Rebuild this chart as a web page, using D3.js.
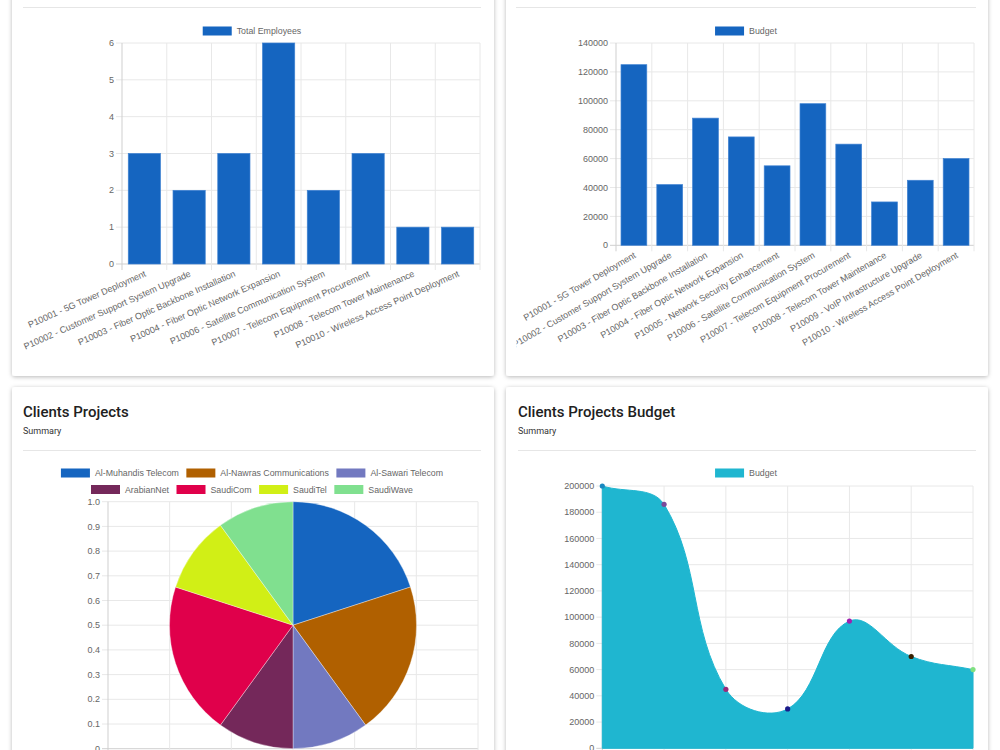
<!DOCTYPE html>
<html>
<head>
<meta charset="utf-8">
<script src="https://cdn.jsdelivr.net/npm/d3@7"></script>
<style>
  html, body { margin: 0; padding: 0; background: #fff; overflow: hidden; }
  svg { display: block; }
  .tick-label { font-family: "Liberation Sans", Arial, sans-serif; font-size: 9px; fill: #666; }
  .legend-label { font-family: "Liberation Sans", Arial, sans-serif; font-size: 8.8px; fill: #666; }
  .card-title { font-family: Roboto, "Noto Sans", sans-serif; font-weight: 500; font-size: 15px; fill: #212121; }
  .card-sub { font-family: Roboto, "Noto Sans", sans-serif; font-size: 9px; fill: #333; }
</style>
</head>
<body>
<div id="page"></div>
<script>
var employeeProjects = ["P10001 - 5G Tower Deployment", "P10002 - Customer Support System Upgrade",
  "P10003 - Fiber Optic Backbone Installation", "P10004 - Fiber Optic Network Expansion",
  "P10006 - Satellite Communication System", "P10007 - Telecom Equipment Procurement",
  "P10008 - Telecom Tower Maintenance", "P10010 - Wireless Access Point Deployment"];
var employeeCounts = [3, 2, 3, 6, 2, 3, 1, 1];
var employeeTicks = [0, 1, 2, 3, 4, 5, 6];

var budgetProjects = ["P10001 - 5G Tower Deployment", "P10002 - Customer Support System Upgrade",
  "P10003 - Fiber Optic Backbone Installation", "P10004 - Fiber Optic Network Expansion",
  "P10005 - Network Security Enhancement", "P10006 - Satellite Communication System",
  "P10007 - Telecom Equipment Procurement", "P10008 - Telecom Tower Maintenance",
  "P10009 - VoIP Infrastructure Upgrade", "P10010 - Wireless Access Point Deployment"];
var budgetValues = [125000, 42000, 88000, 75000, 55000, 98000, 70000, 30000, 45000, 60000];
var budgetTicks = [0, 20000, 40000, 60000, 80000, 100000, 120000, 140000];

var clientNames = ["Al-Muhandis Telecom", "Al-Nawras Communications", "Al-Sawari Telecom",
  "ArabianNet", "SaudiCom", "SaudiTel", "SaudiWave"];
var clientProjectCounts = [2, 2, 1, 1, 2, 1, 1];
var pieTicks = [0, 0.1, 0.2, 0.3, 0.4, 0.5, 0.6, 0.7, 0.8, 0.9, 1.0];

var clientBudgets = [200000, 186000, 45000, 30000, 97000, 70000, 60000];
var clientBudgetTicks = [0, 20000, 40000, 60000, 80000, 100000, 120000, 140000, 160000, 180000, 200000];

// colours
var barBlue = "#1565c0";
var clientColors = ["#1565c0", "#b06000", "#7279c0", "#74285a", "#e0004b", "#d1ef16", "#80e08f"];
var areaColor = "#1fb6d0";
var pointColors = ["#1a88c0", "#7a4a9a", "#9a2a7a", "#1a1a8a", "#a020b0", "#3a2000", "#80e080"];

var gridColor = "#e8e8e8";
var axisColor = "#cfcfcf";

var svg = d3.select("#page").append("svg")
  .attr("width", 1000)
  .attr("height", 750);

var defs = svg.append("defs");
var shadow = defs.append("filter").attr("id", "shadow")
  .attr("x", "-10%").attr("y", "-10%").attr("width", "120%").attr("height", "120%");
shadow.append("feDropShadow")
  .attr("dx", 0).attr("dy", 1)
  .attr("stdDeviation", 2.2)
  .attr("flood-color", "#000")
  .attr("flood-opacity", 0.28);

// cards
var cards = [
  {x: 12, y: -200, w: 482, h: 576},
  {x: 506, y: -200, w: 482, h: 576},
  {x: 12, y: 387, w: 482, h: 500},
  {x: 506, y: 387, w: 482, h: 500}
];
svg.selectAll("rect.card")
  .data(cards)
  .enter()
  .append("rect")
    .attr("class", "card")
    .attr("x", function(d) { return d.x })
    .attr("y", function(d) { return d.y })
    .attr("width", function(d) { return d.w })
    .attr("height", function(d) { return d.h })
    .attr("rx", 3)
    .style("fill", "#fff")
    .attr("filter", "url(#shadow)");

function divider(x1, x2, y) {
  svg.append("line")
    .attr("x1", x1).attr("x2", x2)
    .attr("y1", y).attr("y2", y)
    .style("stroke", "#e6e6e6")
    .style("stroke-width", 1);
}

function header(x, title) {
  svg.append("text").attr("class", "card-title")
    .attr("x", x).attr("y", 417).text(title);
  svg.append("text").attr("class", "card-sub")
    .attr("x", x).attr("y", 434).text("Summary");
}

// legend items laid out in centred rows like chart.js does
function legend(items, colors, centerX, y0, maxW) {
  var g = svg.append("g");
  var gap = 7.5;
  var rows = [[]], rowW = [0];
  var widths = items.map(function(t) {
    var tmp = g.append("text").attr("class", "legend-label").text(t);
    var w = tmp.node().getComputedTextLength();
    tmp.remove();
    return 29 + 5 + w;
  });
  items.forEach(function(t, i) {
    var r = rows.length - 1;
    var add = (rows[r].length ? gap : 0) + widths[i];
    if (rowW[r] + add > maxW && rows[r].length) {
      rows.push([]); rowW.push(0); r++;
      add = widths[i];
    }
    rows[r].push(i);
    rowW[r] += add;
  });
  rows.forEach(function(row, r) {
    var x = centerX - rowW[r] / 2;
    var y = y0 + r * 16.5;
    row.forEach(function(i) {
      g.append("rect")
        .attr("x", x).attr("y", y - 4.5)
        .attr("width", 29).attr("height", 9)
        .style("fill", colors[i]);
      g.append("text").attr("class", "legend-label")
        .attr("x", x + 34).attr("y", y)
        .attr("dy", "0.35em")
        .text(items[i]);
      x += widths[i] + gap;
    });
  });
}

function yAxis(g, y, ticks, x0, x1, fmt) {
  g.selectAll("line.hgrid")
    .data(ticks)
    .enter()
    .append("line")
      .attr("x1", x0 - 6).attr("x2", x1)
      .attr("y1", function(d) { return y(d) })
      .attr("y2", function(d) { return y(d) })
      .style("stroke", function(d) { return d === 0 ? axisColor : gridColor });
  g.selectAll("text.ylab")
    .data(ticks)
    .enter()
    .append("text")
      .attr("class", "tick-label")
      .attr("x", x0 - 8)
      .attr("y", function(d) { return y(d) })
      .attr("dy", "0.35em")
      .attr("text-anchor", "end")
      .text(fmt);
}

// bar chart helper (top cards)
function barChart(opts) {
  var g = svg.append("g");
  var x = d3.scaleBand()
    .domain(opts.labels)
    .range([opts.left, opts.right])
    .paddingInner(0)
    .paddingOuter(0);
  var y = d3.scaleLinear()
    .domain([0, opts.max])
    .range([opts.bottom, opts.top]);

  yAxis(g, y, opts.ticks, opts.left, opts.right, function(d) { return d });

  // vertical grid at category edges
  var edges = opts.labels.map(function(d) { return x(d) }).concat([opts.right]);
  g.selectAll("line.vgrid")
    .data(edges)
    .enter()
    .append("line")
      .attr("x1", function(d) { return d })
      .attr("x2", function(d) { return d })
      .attr("y1", opts.top)
      .attr("y2", opts.bottom + 6)
      .style("stroke", function(d, i) { return i === 0 ? axisColor : gridColor });

  var bw = x.bandwidth() * 0.72;
  g.selectAll("rect.bar")
    .data(opts.values)
    .enter()
    .append("rect")
      .attr("x", function(d, i) { return x(opts.labels[i]) + (x.bandwidth() - bw) / 2 })
      .attr("y", function(d) { return y(d) })
      .attr("width", bw)
      .attr("height", function(d) { return y(0) - y(d) })
      .style("fill", barBlue)
      .style("stroke", "#3f82d2")
      .style("stroke-width", 0.7);

  g.selectAll("text.xlab")
    .data(opts.labels)
    .enter()
    .append("text")
      .attr("class", "tick-label")
      .attr("text-anchor", "end")
      .attr("dy", "0.35em")
      .attr("transform", function(d) {
        return "translate(" + (x(d) + x.bandwidth() / 2 + 1) + "," + (opts.bottom + 9) + ") rotate(" + (-opts.rotate) + ")";
      })
      .text(function(d) { return d });

  legend([opts.series], [barBlue], opts.legendX, 31, 450);
}

// ---- top left: employees per project
divider(23, 481, 7.5);
barChart({
  labels: employeeProjects, values: employeeCounts, ticks: employeeTicks, max: 6,
  left: 122, right: 480, top: 43, bottom: 264, rotate: 24,
  series: "Total Employees", legendX: 252
});

// ---- top right: budget per project
divider(516, 976, 7.5);
barChart({
  labels: budgetProjects, values: budgetValues, ticks: budgetTicks, max: 140000,
  left: 616, right: 974, top: 43, bottom: 245.3, rotate: 30,
  series: "Budget", legendX: 746
});
// clip the left canvas edge of the top-right chart like the reference
svg.append("rect").attr("x", 506).attr("y", 230).attr("width", 10.5).attr("height", 140).style("fill", "#fff");

// ---- bottom left: clients projects (pie drawn over a scale grid)
header(23, "Clients Projects");
divider(23, 481, 450.5);
legend(clientNames, clientColors, 252, 473, 458);

(function() {
  var g = svg.append("g");
  var left = 108, right = 478, top = 501.7, bottom = 748.7;
  var y = d3.scaleLinear().domain([0, 1]).range([bottom, top]);
  var x = d3.scalePoint().domain(clientNames).range([left, right]);

  yAxis(g, y, pieTicks, left, right, function(d) { return d === 0 ? "0" : d3.format(".1f")(d) });
  g.selectAll("line.vgrid")
    .data(clientNames)
    .enter()
    .append("line")
      .attr("x1", function(d) { return x(d) })
      .attr("x2", function(d) { return x(d) })
      .attr("y1", top).attr("y2", bottom + 6)
      .style("stroke", function(d, i) { return i === 0 ? axisColor : gridColor });

  var cx = (left + right) / 2, cy = (top + bottom) / 2;
  var r = Math.min(right - left, bottom - top) / 2;
  var pie = d3.pie().sort(null)(clientProjectCounts);
  var arc = d3.arc().innerRadius(0).outerRadius(r);
  g.append("g")
    .attr("transform", "translate(" + cx + "," + cy + ")")
    .selectAll("path")
    .data(pie)
    .enter()
    .append("path")
      .attr("d", arc)
      .style("fill", function(d, i) { return clientColors[i] })
      .style("stroke", "rgba(255,255,255,0.6)")
      .style("stroke-width", 0.6);
})();

// ---- bottom right: clients budget area line
header(518, "Clients Projects Budget");
divider(518, 976, 450.5);
legend(["Budget"], [areaColor], 746, 473, 458);

(function() {
  var g = svg.append("g");
  var left = 602.3, right = 973, top = 486, bottom = 748.3;
  var y = d3.scaleLinear().domain([0, 200000]).range([bottom, top]);
  var x = d3.scalePoint().domain(clientNames).range([left, right]);

  yAxis(g, y, clientBudgetTicks, left, right, function(d) { return d });
  g.selectAll("line.vgrid")
    .data(clientNames)
    .enter()
    .append("line")
      .attr("x1", function(d) { return x(d) })
      .attr("x2", function(d) { return x(d) })
      .attr("y1", top).attr("y2", bottom + 6)
      .style("stroke", function(d, i) { return i === 0 ? axisColor : gridColor });

  var pts = clientBudgets.map(function(v, i) { return {x: x(clientNames[i]), y: y(v)} });

  // chart.js style spline (tension 0.4, control points kept in the chart area)
  var t = 0.4;
  var cps = pts.map(function(cur, i) {
    var prev = pts[i - 1] || cur, next = pts[i + 1] || cur;
    var d01 = Math.hypot(cur.x - prev.x, cur.y - prev.y);
    var d12 = Math.hypot(next.x - cur.x, next.y - cur.y);
    var s01 = d01 / (d01 + d12), s12 = d12 / (d01 + d12);
    var fa = t * s01, fb = t * s12;
    function cap(p) {
      return {x: Math.max(left, Math.min(right, p.x)), y: Math.max(top, Math.min(bottom, p.y))};
    }
    return {
      prev: cap({x: cur.x - fa * (next.x - prev.x), y: cur.y - fa * (next.y - prev.y)}),
      next: cap({x: cur.x + fb * (next.x - prev.x), y: cur.y + fb * (next.y - prev.y)})
    };
  });

  var p = d3.path();
  p.moveTo(pts[0].x, pts[0].y);
  for (var i = 1; i < pts.length; i++) {
    p.bezierCurveTo(cps[i - 1].next.x, cps[i - 1].next.y, cps[i].prev.x, cps[i].prev.y, pts[i].x, pts[i].y);
  }
  p.lineTo(pts[pts.length - 1].x, y(0));
  p.lineTo(pts[0].x, y(0));
  p.closePath();

  g.append("path")
    .attr("d", p.toString())
    .style("fill", areaColor)
    .style("stroke", areaColor)
    .style("stroke-width", 1);

  g.selectAll("circle")
    .data(pts)
    .enter()
    .append("circle")
      .attr("cx", function(d) { return d.x })
      .attr("cy", function(d) { return d.y })
      .attr("r", 2.6)
      .style("fill", function(d, i) { return pointColors[i] });
})();
</script>
</body>
</html>
